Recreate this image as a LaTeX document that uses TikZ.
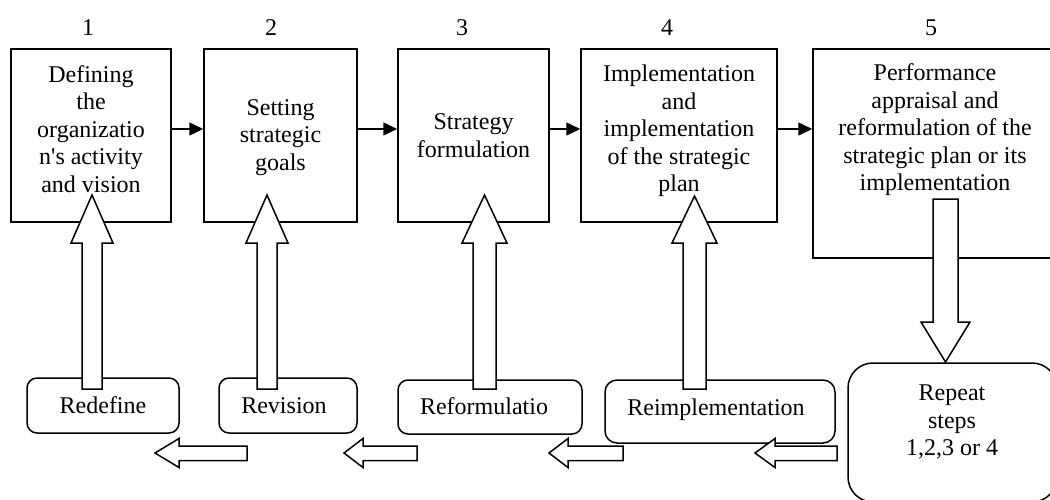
\documentclass[tikz,border=0pt]{standalone}
\usepackage{fontspec}
\setmainfont{Liberation Serif}
\usetikzlibrary{arrows.meta}
% cx, shaft half width, head half width, tip y, head base y, bottom y
\newcommand\MyUpArrow[6]{%
  \draw[blk] ({#1-#2},#6) -- ({#1-#2},#5) -- ({#1-#3},#5) -- (#1,#4) -- ({#1+#3},#5) -- ({#1+#2},#5) -- ({#1+#2},#6) -- cycle;}
% tip x, head base x, tail x (y fixed)
\newcommand\MyLeftArrow[3]{%
  \draw[blk] (#3,446) -- (#2,446) -- (#2,438.5) -- (#1,453) -- (#2,467.5) -- (#2,460.5) -- (#3,460.5) -- cycle;}
\begin{document}
\begin{tikzpicture}[x=1pt,y=-1pt,
  every node/.style={font=\fontsize{24}{27.5}\selectfont},
  box/.style={draw, line width=1.5pt, inner sep=0pt, rectangle},
  rbox/.style={draw, line width=1.5pt, inner sep=0pt, rectangle, rounded corners=10pt},
  txt/.style={align=center, inner sep=0pt},
  num/.style={inner sep=0pt, anchor=base},
  blk/.style={draw, fill=white, line width=1.5pt, line join=miter},
  conn/.style={line width=1.5pt, -{Triangle[length=14pt,width=13pt]}}]
\useasboundingbox (0,0) rectangle (1050,499);
\clip (0,0) rectangle (1050,499);
\fill[white] (0,0) rectangle (1050,499);
% top boxes
\node[box, minimum width=160pt, minimum height=173pt] (b1) at (91,135.5) {};
\node[box, minimum width=153pt, minimum height=173pt] (b2) at (280.5,135.5) {};
\node[box, minimum width=151pt, minimum height=173pt] (b3) at (473.5,135.5) {};
\node[box, minimum width=196pt, minimum height=173pt] (b4) at (679,135.5) {};
\node[box, minimum width=244pt, minimum height=209pt] (b5) at (935,153.5) {};
% numbers
\node[num] (n1) at (88,35) {1};
\node[num] (n2) at (271,35) {2};
\node[num] (n3) at (462,35) {3};
\node[num] (n4) at (667,35) {4};
\node[num] (n5) at (931,35) {5};
% bottom boxes
\node[rbox, minimum width=152pt, minimum height=55pt] (r1) at (103,405.5) {};
\node[rbox, minimum width=138pt, minimum height=55pt] (r2) at (288,405.5) {};
\node[rbox, minimum width=184pt, minimum height=54pt] (r3) at (490,407) {};
\node[rbox, minimum width=230pt, minimum height=63pt, rounded corners=12pt] (r4) at (720,411.5) {};
\node[rbox, minimum width=209pt, minimum height=139pt, rounded corners=25pt] (r5) at (952.5,432.5) {};
% flow arrows
\coordinate (ya) at (0,129);
\draw[conn] (b1.east |- ya) -- (b2.west |- ya);
\draw[conn] (b2.east |- ya) -- (b3.west |- ya);
\draw[conn] (b3.east |- ya) -- (b4.west |- ya);
\draw[conn] (b4.east |- ya) -- (b5.west |- ya);
% hollow up arrows
\MyUpArrow{92}{10}{21}{195}{243}{389}
\MyUpArrow{267}{10}{21}{195}{243}{389}
\MyUpArrow{484.5}{11.5}{22.5}{195}{243}{389}
\MyUpArrow{694.5}{11.5}{22.5}{196}{243}{389}
% hollow down arrow
\draw[blk] (933,199) -- (958,199) -- (958,322) -- (970,322) -- (945.5,362) -- (921,322) -- (933,322) -- cycle;
% hollow left arrows
\MyLeftArrow{155}{179}{247}
\MyLeftArrow{344}{363}{417}
\MyLeftArrow{549}{568}{623}
\MyLeftArrow{755}{775}{837}
% texts
\node[txt] (t1) at (91,129) {Defining\\the\\organizatio\\n\textquotesingle s activity\\and vision};
\node[txt] (t2) at (280.5,137.5) {Setting\\strategic\\goals};
\node[txt] (t3) at (473.5,135.5) {Strategy\\formulation};
\node[txt] (t4) at (679,131) {Implementation\\and\\implementation\\of the strategic\\plan};
\node[txt] (t5) at (935,130) {Performance\\appraisal and\\reformulation of the\\strategic plan or its\\implementation};
\node[num] (u1) at (103,413) {Redefine};
\node[num] (u2) at (284,413) {Revision};
\node[num] (u3) at (484,414) {Reformulatio};
\node[num] (u4) at (716,415) {Reimplementation};
\node[txt] (u5) at (952,422) {Repeat\\steps\\1,2,3 or 4};
\end{tikzpicture}
\end{document}
